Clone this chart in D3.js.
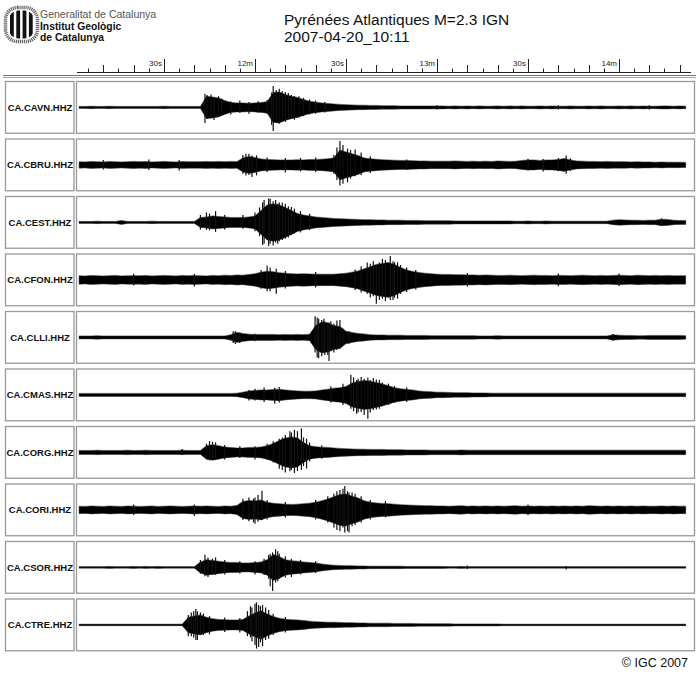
<!DOCTYPE html>
<html><head><meta charset="utf-8">
<script src="https://cdn.jsdelivr.net/npm/d3@7"></script>
<style>
body{margin:0;background:#fff}
svg{display:block}
text{font-family:"Liberation Sans",Arial,Helvetica,sans-serif}
</style>
</head><body>
<svg id="chart" width="700" height="683"></svg>
<script>
// ---------------- data ----------------
const titleLine1 = "Pyrénées Atlantiques M=2.3 IGN";
const titleLine2 = "2007-04-20_10:11";
const stations = ["CA.CAVN.HHZ","CA.CBRU.HHZ","CA.CEST.HHZ","CA.CFON.HHZ","CA.CLLI.HHZ",
                  "CA.CMAS.HHZ","CA.CORG.HHZ","CA.CORI.HHZ","CA.CSOR.HHZ","CA.CTRE.HHZ"];
// envelope samples (percent of full scale), one every 2 s starting 10:11:02 (s after 10:11:00)
const sampleStart = 2, sampleStep = 2;
const envCAVN = [4,4,5,4,4,5,4,4,4,4, 4,4,4,4,5,4,4,4,4,4, 4,45,42,38,28,20,18,18,17,18,
  20,23,60,62,52,45,40,32,25,21, 18,16,14,12,11,10,9,9,8,8, 7,7,7,6,6,6,6,6,6,6,
  6,5,6,5,6,5,6,5,5,6, 5,6,5,6,5,5,6,5,6,5, 5,6,5,5,6,5,6,5,5,6, 5,6,5,6,5,5,6,6,5,6, 5];
const envCBRU = [13,12,14,13,12,14,13,12,13,14, 13,14,12,13,14,13,12,14,13,13, 13,14,13,14,13,14,13,28,34,30,
  24,22,21,20,20,20,21,20,22,22, 23,25,28,60,52,45,38,28,25,23, 21,20,19,18,18,17,16,16,15,15,
  15,15,16,15,14,15,14,15,14,16, 15,14,15,18,20,20,18,20,20,22, 26,20,16,15,14,14,13,14,13,13,
  13,12,13,12,12,11,12,11,11,11, 10];
const envCEST = [4,4,4,5,4,4,4,8,4,4, 4,4,5,4,4,4,4,4,4,4, 20,22,26,24,22,20,20,20,22,26,
  48,70,75,70,60,48,36,30,26,22, 20,18,16,15,14,13,12,11,11,10, 10,9,9,9,8,8,8,7,7,7,
  7,7,6,6,6,6,6,6,6,6, 6,6,5,5,6,5,5,6,5,5, 5,5,5,5,5,5,5,5,9,11, 10,9,9,8,9,9,13,12,9,8, 8];
const envCFON = [17,16,18,17,16,17,18,16,17,17, 17,18,16,17,18,17,16,18,17,18, 17,16,18,17,19,18,20,19,22,25,
  31,35,33,29,27,25,24,25,24,23, 23,23,23,25,27,31,36,45,53,62, 66,70,62,50,40,34,30,27,25,23,
  22,22,21,21,20,20,19,20,19,18, 18,19,18,17,18,19,18,18,17,18, 18,17,18,19,18,17,18,17,18,19,
  18,17,19,18,17,18,17,18,17,17, 17];
const envCLLI = [6,6,6,7,6,6,6,6,6,6, 6,6,6,6,6,6,6,6,6,6, 6,6,6,6,6,11,20,16,13,12,
  12,12,12,11,12,11,12,11,13,48, 62,58,48,44,25,20,16,14,11,10, 10,9,9,9,8,8,8,8,7,7,
  7,7,7,7,7,7,6,6,6,7, 6,6,6,6,6,6,6,6,6,6, 6,6,6,6,6,6,6,6,11,9, 8,8,7,7,8,8,8,8,8,8, 7];
const envCMAS = [6,6,6,6,6,6,6,6,6,6, 6,6,6,6,6,6,6,6,6,6, 6,6,6,6,6,6,7,11,16,18,
  20,20,22,23,20,18,16,15,15,16, 20,23,27,29,34,48,54,58,55,50, 44,37,29,25,22,20,16,14,13,11,
  11,10,9,9,9,8,8,8,7,7, 7,7,7,7,7,7,7,7,7,7, 7,7,7,7,7,7,7,7,7,7, 7,7,7,7,7,7,7,7,7,7, 7];
const envCORG = [8,8,8,9,8,8,8,8,9,8, 8,9,8,8,8,8,8,9,8,8, 8,27,31,27,22,20,18,18,20,20,
  22,27,36,48,58,62,58,40,27,23, 21,20,18,16,15,14,13,13,12,12, 12,11,11,11,10,10,10,10,9,9,
  9,9,9,10,9,9,9,9,9,9, 9,9,9,9,9,9,9,9,9,9, 9,9,9,9,9,9,9,9,9,9, 9,9,9,9,9,9,9,9,9,9, 9];
const envCORI = [15,14,16,15,14,16,15,14,16,15, 14,15,16,14,15,16,15,14,15,16, 15,16,15,14,16,15,18,34,38,36,
  40,31,27,25,23,22,23,25,27,31, 37,44,53,62,64,55,48,37,31,28, 26,25,23,21,20,19,18,17,17,16,
  16,15,16,17,15,16,15,16,15,16, 15,16,17,15,16,15,16,15,16,15, 16,15,16,15,17,16,15,16,15,16,
  15,16,15,16,15,15,16,15,16,15, 15];
const envCSOR = [3,3,3,3,3,4,3,3,3,4, 3,4,3,4,3,3,3,3,3,3, 22,31,28,25,22,20,20,18,18,20,
  22,31,52,44,31,27,25,22,20,18, 14,11,9,8,7,7,6,6,5,5, 5,5,5,5,4,4,4,4,4,4,
  4,3,3,4,3,3,3,3,3,3, 3,3,3,3,3,3,3,3,3,3, 3,3,3,3,3,3,3,3,3,3, 3,3,3,3,3,3,3,3,3,3, 3];
const envCTRE = [3,3,3,3,3,3,3,3,3,3, 3,3,3,3,3,3,3,3,31,36, 40,31,25,22,21,20,20,22,36,48,
  57,44,34,27,23,21,20,18,15,13, 12,11,11,10,9,9,8,8,7,7, 7,7,6,6,6,6,5,5,5,5,
  5,5,4,4,4,4,4,4,4,4, 3,3,3,3,3,3,3,3,3,3, 3,3,3,3,3,3,3,3,3,3, 3,3,3,3,3,3,3,3,3,3, 3];
// individual peaks: [seconds, upward %, downward %]
const peaksCAVN = [[43.5,55,62],[44.2,50,45],[45.5,52,40],[46.5,40,50],[48,45,35],[49,35,30],[52,25,28],[55,28,22],
  [58,22,25],[61,25,20],[64,30,25],[65.5,60,70],[66,86,94],[67,70,60],[68,75,65],[69,65,55],[70,62,58],[71,58,40],
  [72,50,45],[73,45,50],[74.5,45,40],[76,38,35],[78,32,28],[80,28,25],[83,22,20],[120,9,8],[160,9,8],[190,9,8]];
const peaksCBRU = [[10,20,18],[25,22,20],[35,20,22],[56,40,35],[57,45,42],[58,45,40],[59,38,48],[60.5,38,42],
  [64,30,28],[70,28,30],[75,28,26],[80,30,28],[86,40,35],[87,70,60],[88,96,82],[89,80,75],[90.5,65,70],[91.5,60,55],
  [93,62,45],[95,50,40],[98,35,32],[110,22,20],[150,25,22],[155,24,26],[160,28,25],[162.6,38,35],[164,26,24]];
const peaksCEST = [[42,30,28],[44,40,30],[45,35,32],[47,45,38],[50,30,28],[56,30,25],[60,40,35],[61.5,60,55],
  [62.5,80,90],[63,90,85],[64.5,96,94],[65,95,85],[66,85,92],[66.8,90,80],[67.5,75,85],[68,80,75],[69,80,70],
  [70,75,65],[71,65,60],[72,62,50],[73,55,45],[75,45,40],[78,35,30],[194,16,14]];
const peaksCFON = [[20,25,22],[40,24,26],[62,40,35],[64,58,45],[65,50,45],[67,45,55],[70,36,34],[80,32,30],
  [93,42,40],[95,55,50],[97,70,55],[98,65,70],[99,75,65],[100,60,95],[101,70,80],[102,85,75],[103,80,85],
  [104.6,96,80],[105.5,75,80],[106,70,72],[107,70,75],[108,60,55],[110,50,48],[113,40,38],[130,28,26],[160,26,25],[180,26,24]];
const peaksCLLI = [[52.8,25,22],[53.5,26,26],[55,20,22],[60,15,15],[79.8,85,60],[80.5,80,80],[81,75,83],[82,70,75],
  [82.7,75,60],[83,65,70],[84,60,70],[84.4,60,94],[85,65,55],[86,55,60],[87,68,50],[88,70,45],[89,35,30],[91,25,25],[178,14,12]];
const peaksCMAS = [[58,20,22],[60,25,22],[63,30,28],[66.5,28,35],[68,32,30],[85,35,30],[89,45,40],[91.6,81,55],
  [92.5,70,65],[93.5,60,75],[94,65,70],[95,72,68],[96,65,80],[97.2,70,95],[98,60,70],[99,68,60],[100,62,58],
  [101,60,55],[102,50,45],[104,45,40],[106,35,32],[110,30,28]];
const peaksCORG = [[36,14,10],[44,35,28],[45,45,32],[46,42,30],[47,40,30],[50,30,28],[55,25,22],[60,25,28],
  [64,35,30],[66,45,40],[68,55,65],[69,60,70],[70,70,80],[71.5,85,75],[72,80,70],[73,90,83],[74,85,75],
  [75.3,96,70],[76,60,55],[77,55,65],[78,40,35],[82,28,25]];
const peaksCORI = [[20,22,20],[40,22,24],[56,45,40],[58,50,45],[59.5,45,50],[60,50,55],[61,60,47],[62.3,77,40],
  [64,40,38],[70,32,30],[80,40,38],[84,55,50],[86,65,70],[87,75,80],[88,80,85],[89,85,70],[89.6,96,90],
  [90.5,75,85],[91,70,90],[92,70,65],[93,65,60],[95,55,50],[98,40,38],[103,35,30],[150,22,20]];
const peaksCSOR = [[42,30,25],[43.5,51,35],[44.5,40,38],[46,35,30],[47,40,30],[50,30,28],[55,25,24],[60,25,28],
  [63,35,30],[64.5,50,45],[65,55,75],[65.8,60,94],[66.8,73,60],[67.5,65,55],[68,55,45],[70,45,40],[72,35,38],
  [75,30,28],[80,25,22],[130,8,6],[162.6,6,8]];
const peaksCTRE = [[38,40,45],[39,50,45],[39.8,55,50],[40.5,64,60],[41,55,60],[42,50,38],[43,45,40],[45,35,38],
  [50,30,28],[55,28,30],[57.5,55,45],[58.5,75,50],[59,70,65],[60,85,80],[60.5,90,95],[61.2,80,88],[61.8,75,70],
  [62.5,80,85],[63.5,70,60],[64.5,60,55],[66,45,40],[70,32,30]];
// time axis (seconds after 10:11:00)
const labelTimes = [30,60,90,120,150,180];
const labelTexts = ["30s","12m","30s","13m","30s","14m"];
const copyright = "© IGC 2007";

// ---------------- drawing ----------------
const envs = [envCAVN,envCBRU,envCEST,envCFON,envCLLI,envCMAS,envCORG,envCORI,envCSOR,envCTRE];
const peaks = [peaksCAVN,peaksCBRU,peaksCEST,peaksCFON,peaksCLLI,peaksCMAS,peaksCORG,peaksCORI,peaksCSOR,peaksCTRE];

const svg = d3.select("#chart");
const x = d3.scaleLinear().domain([0,180]).range([73,619]);
const band = d3.scaleBand().domain(stations).range([81.5,650.75]).paddingInner(0.1).paddingOuter(0);
const bw = band.bandwidth();
const amp = d3.scaleLinear().domain([-100,100]).range([bw/2+25, bw/2-25]);

// logo
const logo = svg.append("g");
logo.append("rect").attr("x",5.5).attr("y",7.5).attr("width",32).attr("height",34).attr("rx",12)
  .attr("fill","#fff").attr("stroke","#666").attr("stroke-width",3.5).attr("stroke-dasharray","1.2,0.8");
const clip = svg.append("clipPath").attr("id","lc");
clip.append("rect").attr("x",8.5).attr("y",10.5).attr("width",26).attr("height",28).attr("rx",10);
const bars = logo.append("g").attr("clip-path","url(#lc)");
d3.range(4).forEach(i=>{
  bars.append("rect").attr("x",10+i*6.3).attr("y",9).attr("width",3.8).attr("height",32).attr("fill","#111");
});
logo.append("text").attr("x",40).attr("y",18).attr("font-size",10.5).attr("fill","#555").text("Generalitat de Catalunya");
logo.append("text").attr("x",40).attr("y",29.5).attr("font-size",10.3).attr("font-weight","bold").attr("fill","#111").text("Institut Geològic");
logo.append("text").attr("x",40).attr("y",41).attr("font-size",10.3).attr("font-weight","bold").attr("fill","#111").text("de Catalunya");

// title
svg.append("text").attr("x",284).attr("y",25).attr("font-size",15.5).attr("fill","#111").text(titleLine1);
svg.append("text").attr("x",284).attr("y",42).attr("font-size",15.5).attr("fill","#111").text(titleLine2);

// time axis
const axisY = 72;
const axisG = svg.append("g");
axisG.append("line").attr("x1",77).attr("x2",691).attr("y1",axisY+0.5).attr("y2",axisY+0.5).attr("stroke","#222");
const minorTimes = d3.range(5,205,5);
axisG.selectAll("line.tk").data(minorTimes).join("line").attr("class","tk")
  .attr("x1",d=>Math.round(x(d))+0.5).attr("x2",d=>Math.round(x(d))+0.5)
  .attr("y1",axisY).attr("y2",d=> d%30===0 ? axisY-13 : (d%10===0 ? axisY-7 : axisY-3.5))
  .attr("stroke","#222").attr("stroke-width",1);
axisG.selectAll("text.tl").data(labelTimes).join("text").attr("class","tl")
  .attr("x",d=>x(d)-2).attr("y",axisY-6).attr("text-anchor","end").attr("font-size",8).attr("fill","#222")
  .text((d,i)=>labelTexts[i]);
svg.append("line").attr("x1",3).attr("x2",696).attr("y1",75.5).attr("y2",75.5).attr("stroke","#777");
svg.append("line").attr("x1",3).attr("x2",696).attr("y1",77.5).attr("y2",77.5).attr("stroke","#aaa");

// panels
const area = d3.area().x(d=>x(d.t)).y0(d=>amp(-d.v)).y1(d=>amp(d.v));
stations.forEach((s,i)=>{
  const g = svg.append("g").attr("transform",`translate(0,${band(s)})`);
  g.append("rect").attr("x",5.5).attr("y",0).attr("width",68.5).attr("height",bw)
    .attr("fill","none").attr("stroke","#999").attr("stroke-width",1.3);
  g.append("rect").attr("x",76.5).attr("y",0).attr("width",618).attr("height",bw)
    .attr("fill","none").attr("stroke","#999").attr("stroke-width",1.3);
  g.append("text").attr("x",40).attr("y",bw/2+3.5).attr("text-anchor","middle")
    .attr("font-size",9.5).attr("font-weight","bold").attr("fill","#111").text(s);
  const data = envs[i].map((v,k)=>({t:sampleStart+k*sampleStep, v:v}));
  g.append("line").attr("x1",x(data[0].t)).attr("x2",x(data[data.length-1].t))
    .attr("y1",amp(0)).attr("y2",amp(0)).attr("stroke","#000").attr("stroke-width",1.4);
  g.append("path").datum(data).attr("d",area).attr("fill","#000").attr("stroke","#333").attr("stroke-width",0.5);
  g.selectAll("line.pk").data(peaks[i]).join("line").attr("class","pk")
    .attr("x1",d=>x(d[0])).attr("x2",d=>x(d[0]))
    .attr("y1",d=>amp(d[1])).attr("y2",d=>amp(-d[2]))
    .attr("stroke","#111").attr("stroke-width",1.2);
});

svg.append("text").attr("x",688).attr("y",667).attr("text-anchor","end").attr("font-size",12.5).attr("fill","#111").text(copyright);
</script>
</body></html>
